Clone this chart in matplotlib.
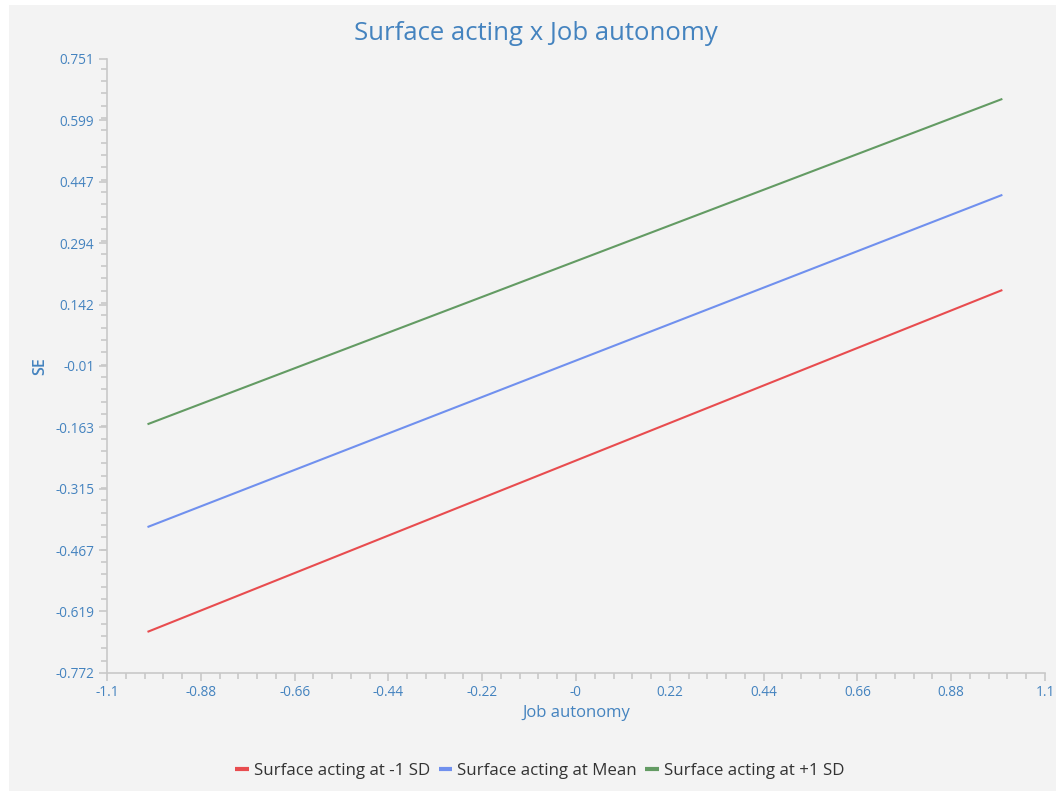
import numpy as np
import matplotlib.pyplot as plt
from matplotlib.patches import Rectangle
from matplotlib.ticker import AutoMinorLocator

# simple slopes: SE vs job autonomy at three levels of surface acting
x_vals = [-1.005, 1.0]
low_sd = [-0.670, 0.178]
mean_lvl = [-0.410, 0.414]
high_sd = [-0.155, 0.652]

series_names = ['Surface acting at -1 SD', 'Surface acting at Mean', 'Surface acting at +1 SD']
series_colors = ['#e84c4f', '#7090ee', '#639b63']

x_ticks = [-1.1, -0.88, -0.66, -0.44, -0.22, 0.0, 0.22, 0.44, 0.66, 0.88, 1.1]
x_ticklabels = ['-1.1', '-0.88', '-0.66', '-0.44', '-0.22', '-0', '0.22', '0.44', '0.66', '0.88', '1.1']
y_ticks = [0.751, 0.599, 0.447, 0.294, 0.142, -0.01, -0.163, -0.315, -0.467, -0.619, -0.772]

plt.rcParams['font.family'] = ['Open Sans', 'DejaVu Sans']
label_col = '#4483bf'
axis_col = '#c8c8c8'
bg = '#f3f3f3'

fig = plt.figure(figsize=(10.56, 7.91), dpi=100, facecolor='white')
fig.patches.append(Rectangle((9 / 1056, 0), 1, 1 - 5 / 791, transform=fig.transFigure,
                             facecolor=bg, edgecolor='none', zorder=-1))
ax = fig.add_axes([107 / 1056, 1 - 673 / 791, (1045 - 107) / 1056, (673 - 59) / 791])
ax.set_facecolor(bg)

for ys, name, col in zip([low_sd, mean_lvl, high_sd], series_names, series_colors):
    ax.plot(x_vals, ys, color=col, lw=1.5, label=name, solid_capstyle='butt')

ax.set_xlim(-1.1, 1.1)
ax.set_ylim(-0.772, 0.751)
ax.set_xticks(x_ticks)
ax.set_xticklabels(x_ticklabels)
ax.set_yticks(y_ticks)
ax.set_yticklabels([f'{v:g}' for v in y_ticks])
ax.xaxis.set_minor_locator(AutoMinorLocator(5))
ax.yaxis.set_minor_locator(AutoMinorLocator(5))

for side in ['top', 'right']:
    ax.spines[side].set_visible(False)
for side in ['left', 'bottom']:
    ax.spines[side].set_color(axis_col)
    ax.spines[side].set_linewidth(1.2)

ax.tick_params(which='major', length=6, width=1.2, color=axis_col, labelcolor=label_col,
               labelsize=9.8, pad=3)
ax.tick_params(which='minor', length=4.3, width=1.2, color=axis_col)
for lbl in ax.get_xticklabels() + ax.get_yticklabels():
    lbl.set_fontweight('medium')

fig.text(536 / 1056, 1 - 33 / 791, 'Surface acting x Job autonomy', color=label_col,
         fontsize=18.5, ha='center', va='center')
ax.set_xlabel('Job autonomy', color=label_col, fontsize=12, labelpad=3, fontweight='medium')
ax.set_ylabel('SE', color=label_col, fontsize=11.5, labelpad=5, fontweight='semibold')

leg = fig.legend(loc='center', bbox_to_anchor=(540 / 1056, 1 - 771 / 791), ncol=3,
                 frameon=False, fontsize=12.2, handlelength=0.8, handletextpad=0.3,
                 columnspacing=0.5, labelcolor='#333333')
for h in leg.legend_handles:
    h.set_linewidth(3)

fig.savefig('out.png', dpi=100, facecolor=fig.get_facecolor())
